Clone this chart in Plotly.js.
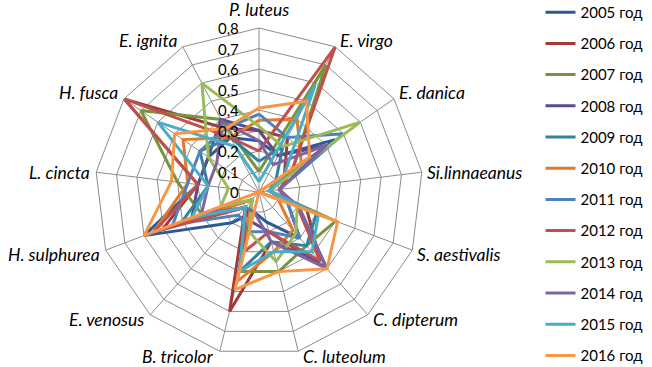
<!DOCTYPE html>
<html>
<head>
<meta charset="utf-8">
<script src="https://cdn.plot.ly/plotly-3.0.1.min.js"></script>
<style>html,body{margin:0;padding:0;background:#fff;}#chart{width:652px;height:367px;}</style>
</head>
<body>
<div id="chart"></div>
<script>
const categories = ["P. luteus","E. virgo","E. danica","Si.linnaeanus","S. aestivalis","C. dipterum","C. luteolum","B. tricolor","E. venosus","H. sulphurea","L. cincta","H. fusca","E. ignita"];
const seriesNames = ["2005 год","2006 год","2007 год","2008 год","2009 год","2010 год","2011 год","2012 год","2013 год","2014 год","2015 год","2016 год"];
const v2005 = [0.25,0.20,0.45,0.05,0.15,0.30,0.15,0.10,0.20,0.60,0.30,0.30,0.30];
const v2006 = [0.30,0.30,0.15,0.05,0.25,0.45,0.25,0.60,0.10,0.50,0.30,0.80,0.35];
const v2007 = [0.10,0.70,0.20,0.05,0.40,0.35,0.40,0.40,0.05,0.30,0.40,0.70,0.40];
const v2008 = [0.30,0.20,0.40,0.05,0.20,0.50,0.20,0.15,0.10,0.35,0.30,0.30,0.40];
const v2009 = [0.15,0.25,0.10,0.05,0.30,0.35,0.25,0.40,0.05,0.40,0.25,0.35,0.30];
const v2010 = [0.35,0.40,0.25,0.00,0.10,0.25,0.30,0.45,0.05,0.55,0.35,0.45,0.30];
const v2011 = [0.38,0.30,0.50,0.10,0.15,0.30,0.20,0.20,0.15,0.45,0.35,0.35,0.35];
const v2012 = [0.20,0.80,0.20,0.10,0.20,0.45,0.20,0.30,0.10,0.55,0.30,0.80,0.30];
const v2013 = [0.32,0.25,0.60,0.05,0.20,0.27,0.35,0.20,0.05,0.20,0.15,0.30,0.60];
const v2014 = [0.25,0.15,0.40,0.10,0.21,0.50,0.25,0.10,0.10,0.30,0.25,0.25,0.39];
const v2015 = [0.05,0.59,0.15,0.05,0.31,0.39,0.30,0.40,0.10,0.35,0.25,0.60,0.25];
const v2016 = [0.41,0.50,0.30,0.00,0.41,0.50,0.40,0.49,0.00,0.60,0.43,0.50,0.35];
const seriesValues = [v2005,v2006,v2007,v2008,v2009,v2010,v2011,v2012,v2013,v2014,v2015,v2016];
const colors = ["#2C5A96","#A33A38","#77933C","#5F4B8B","#31849B","#E07B2E","#4F81BD","#C0504D","#9BBB59","#8064A2","#4BACC6","#F79646"];
const radialTickVals = [0,0.1,0.2,0.3,0.4,0.5,0.6,0.7,0.8];
const radialTickText = ["0","0,1","0,2","0,3","0,4","0,5","0,6","0,7","0,8"];
const rMax = 0.8;

const traces = seriesValues.map((vals, i) => ({
  type: "scatterpolar",
  mode: "lines",
  r: vals.concat([vals[0]]),
  theta: categories.concat([categories[0]]),
  name: seriesNames[i],
  legendgroup: "g" + i,
  line: {color: colors[i], width: 3},
  hoverinfo: "skip"
}));

// geometry of the polar area (pixels)
const W = 652, H = 367, cx = 259, cy = 192, R = 164;
const px2x = p => p / W, py2y = p => 1 - p / H;

const annotations = [];
// category labels placed just outside each outer vertex
const n = categories.length;
categories.forEach((c, k) => {
  const a = 2 * Math.PI * k / n;
  const s = Math.sin(a), co = Math.cos(a);
  const vx = cx + R * s, vy = cy - R * co;
  let xa = "center", ya = "middle", dx = 0, dy = 0;
  if (s > 0.1) { xa = "left"; dx = 3; } else if (s < -0.1) { xa = "right"; dx = -4; }
  if (k === 0) { ya = "bottom"; dy = -6; }
  else if (co > 0.5) { ya = "middle"; dy = -6; }
  else if (co < -0.5) { ya = "middle"; dy = 5; }
  else if (co < -0.2) { dy = 4; }
  annotations.push({
    xref: "paper", yref: "paper", x: px2x(vx + dx), y: py2y(vy + dy),
    xanchor: xa, yanchor: ya, showarrow: false, text: c,
    font: {family: "Lato, sans-serif", size: 17.5, color: "#000", style: "italic"}
  });
});
// radial tick labels, left of the vertical axis
radialTickVals.forEach((v, i) => {
  annotations.push({
    xref: "paper", yref: "paper", x: px2x(cx - 18), y: py2y(cy - R * v / rMax),
    xanchor: "right", yanchor: "middle", showarrow: false, text: radialTickText[i],
    font: {family: "Lato, sans-serif", size: 15, color: "#000"}
  });
});

const layout = {
  width: W, height: H,
  margin: {l: 0, r: 0, t: 0, b: 0, autoexpand: false},
  paper_bgcolor: "#fff",
  plot_bgcolor: "#fff",
  font: {family: "Lato, 'Open Sans', sans-serif", color: "#000"},
  showlegend: true,
  legend: {
    x: 0.829, y: 1.011, xanchor: "left", yanchor: "top",
    font: {family: "Lato, sans-serif", size: 15, color: "#000"},
    tracegroupgap: 8.7,
    itemwidth: 30,
    maxheight: 1000,
    bgcolor: "rgba(0,0,0,0)"
  },
  annotations: annotations,
  polar: {
    domain: {x: [(cx - R) / W, (cx + R) / W], y: [(H - cy - R) / H, (H - cy + R) / H]},
    gridshape: "linear",
    bgcolor: "#fff",
    angularaxis: {
      type: "category",
      categoryarray: categories,
      rotation: 90,
      direction: "clockwise",
      showline: true,
      linecolor: "#8c8c8c",
      linewidth: 1,
      gridcolor: "#8c8c8c",
      gridwidth: 1,
      ticks: "",
      showticklabels: false
    },
    radialaxis: {
      range: [0, rMax],
      angle: 90,
      tickvals: radialTickVals,
      showticklabels: false,
      showline: false,
      gridcolor: "#8c8c8c",
      gridwidth: 1,
      ticks: ""
    }
  }
};

Plotly.newPlot("chart", traces, layout, {staticPlot: true, displayModeBar: false});
</script>
</body>
</html>
